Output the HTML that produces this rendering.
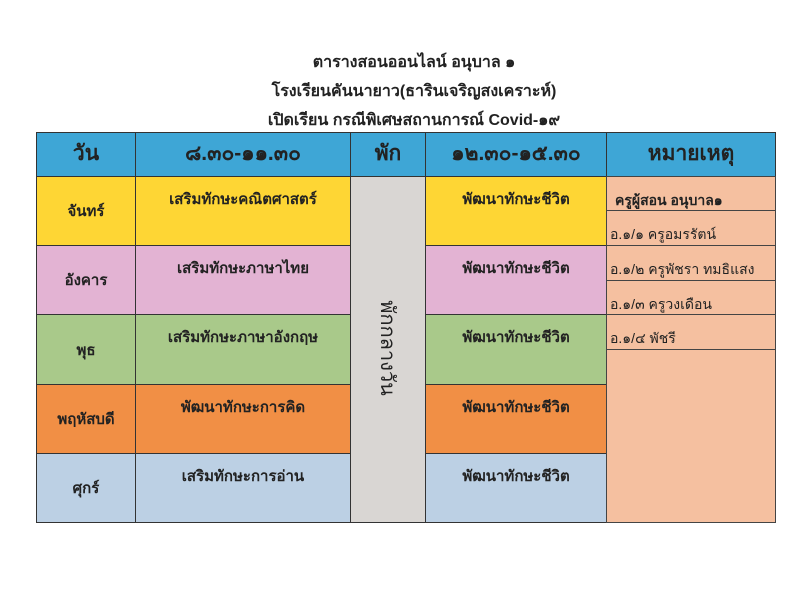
<!DOCTYPE html>
<html><head><meta charset="utf-8"><style>
body{margin:0;width:800px;height:600px;background:#fff;position:relative;overflow:hidden;font-family:"Liberation Sans","DejaVu Sans",sans-serif;color:#222}
.t{position:absolute;left:0;width:828px;text-align:center;font-size:16px;font-weight:bold}
.c{position:absolute;box-sizing:border-box;border:1px solid #333;text-align:center;font-size:15px;font-weight:bold}
.h{background:#3ea6d6;font-size:21px;line-height:42px}
.n{position:absolute;box-sizing:border-box;border:1px solid #444;background:#f5c0a0;font-size:14px;padding-left:3px;padding-top:13px}
</style></head><body>
<div class="t" style="top:50px">ตารางสอนออนไลน์ อนุบาล ๑</div>
<div class="t" style="top:79px">โรงเรียนคันนายาว(ธารินเจริญสงเคราะห์)</div>
<div class="t" style="top:108px">เปิดเรียน กรณีพิเศษสถานการณ์ Covid-๑๙</div>

<div class="c h" style="left:36px;top:132px;width:100px;height:45px">วัน</div>
<div class="c h" style="left:135px;top:132px;width:216px;height:45px">๘.๓๐-๑๑.๓๐</div>
<div class="c h" style="left:350px;top:132px;width:76px;height:45px">พัก</div>
<div class="c h" style="left:425px;top:132px;width:182px;height:45px">๑๒.๓๐-๑๕.๓๐</div>
<div class="c h" style="left:606px;top:132px;width:170px;height:45px">หมายเหตุ</div>

<div class="c" style="left:350px;top:176px;width:76px;height:347px;background:#d9d6d3"></div>
<div style="position:absolute;left:388px;top:348px;transform:translate(-50%,-50%) rotate(90deg);font-size:20px;white-space:nowrap">พักกลางวัน</div>

<div class="c" style="left:36px;top:176px;width:100px;height:70px;background:#fed634;line-height:70px">จันทร์</div>
<div class="c" style="left:135px;top:176px;width:216px;height:70px;background:#fed634;padding-top:10px">เสริมทักษะคณิตศาสตร์</div>
<div class="c" style="left:425px;top:176px;width:182px;height:70px;background:#fed634;padding-top:10px">พัฒนาทักษะชีวิต</div>

<div class="c" style="left:36px;top:245px;width:100px;height:70px;background:#e3b3d3;line-height:70px">อังคาร</div>
<div class="c" style="left:135px;top:245px;width:216px;height:70px;background:#e3b3d3;padding-top:10px">เสริมทักษะภาษาไทย</div>
<div class="c" style="left:425px;top:245px;width:182px;height:70px;background:#e3b3d3;padding-top:10px">พัฒนาทักษะชีวิต</div>

<div class="c" style="left:36px;top:314px;width:100px;height:71px;background:#a9c98a;line-height:71px">พุธ</div>
<div class="c" style="left:135px;top:314px;width:216px;height:71px;background:#a9c98a;padding-top:10px">เสริมทักษะภาษาอังกฤษ</div>
<div class="c" style="left:425px;top:314px;width:182px;height:71px;background:#a9c98a;padding-top:10px">พัฒนาทักษะชีวิต</div>

<div class="c" style="left:36px;top:384px;width:100px;height:70px;background:#f18f45;line-height:70px">พฤหัสบดี</div>
<div class="c" style="left:135px;top:384px;width:216px;height:70px;background:#f18f45;padding-top:10px">พัฒนาทักษะการคิด</div>
<div class="c" style="left:425px;top:384px;width:182px;height:70px;background:#f18f45;padding-top:10px">พัฒนาทักษะชีวิต</div>

<div class="c" style="left:36px;top:453px;width:100px;height:70px;background:#bcd0e4;line-height:70px">ศุกร์</div>
<div class="c" style="left:135px;top:453px;width:216px;height:70px;background:#bcd0e4;padding-top:10px">เสริมทักษะการอ่าน</div>
<div class="c" style="left:425px;top:453px;width:182px;height:70px;background:#bcd0e4;padding-top:10px">พัฒนาทักษะชีวิต</div>

<div class="n" style="left:606px;top:176px;width:170px;height:35px;padding-left:8px;font-weight:bold">ครูผู้สอน อนุบาล๑</div>
<div class="n" style="left:606px;top:210px;width:170px;height:36px">อ.๑/๑ ครูอมรรัตน์</div>
<div class="n" style="left:606px;top:245px;width:170px;height:36px">อ.๑/๒ ครูพัชรา ทมธิแสง</div>
<div class="n" style="left:606px;top:280px;width:170px;height:35px">อ.๑/๓ ครูวงเดือน</div>
<div class="n" style="left:606px;top:314px;width:170px;height:36px">อ.๑/๔ พัชรี</div>
<div class="n" style="left:606px;top:349px;width:170px;height:174px"></div>
</body></html>
